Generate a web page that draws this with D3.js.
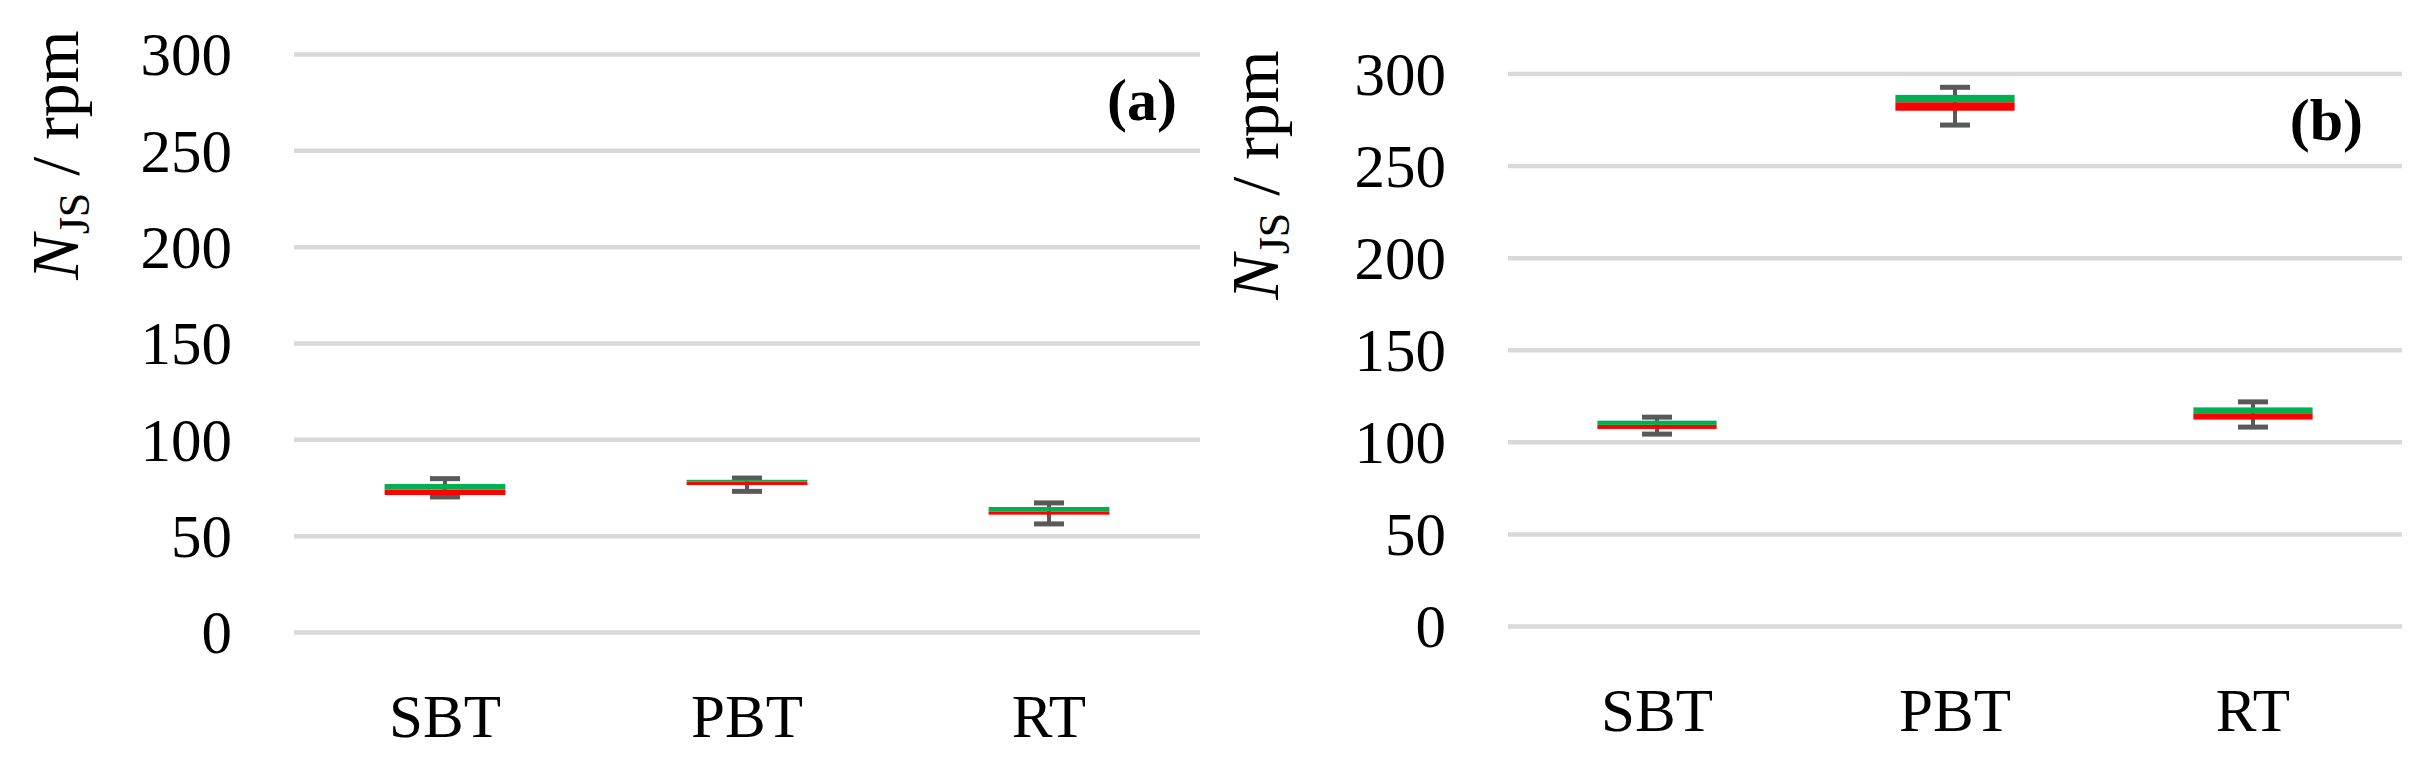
<!DOCTYPE html>
<html>
<head>
<meta charset="utf-8">
<script src="https://cdn.jsdelivr.net/npm/d3@7"></script>
<style>
  html, body { margin: 0; padding: 0; background: #fff; }
  svg { display: block; }
</style>
</head>
<body>
<div id="chart"></div>
<script>
// categories and axis ticks
const categories = ["SBT", "PBT", "RT"];
const yTicks = [0, 50, 100, 150, 200, 250, 300];

// panel (a): box stats per category
const aMin    = [70.1, 73.0, 56.1];
const aQ1     = [71.1, 76.3, 60.9];
const aMedian = [73.9, 78.0, 62.6];
const aQ3     = [76.8, 79.0, 64.9];
const aMax    = [79.6, 79.9, 67.0];

// panel (b)
const bMin    = [104.2, 272.0, 108.0];
const bQ1     = [107.0, 279.8, 112.1];
const bMedian = [109.2, 284.4, 115.5];
const bQ3     = [111.5, 288.4, 118.7];
const bMax    = [113.4, 292.5, 121.7];

const W = 2424, H = 773;
const svg = d3.select("#chart").append("svg")
    .attr("width", W)
    .attr("height", H);

const font = "'Liberation Serif', 'Times New Roman', serif";

// layout of the two panels
let panels = [
    {tag: "(a)", left: 294, right: 1200, top: 54, bottom: 632,
     labelX: 78, labelY: 155, tagX: 1177, tagY: 120, catY: 737,
     stats: {min: aMin, q1: aQ1, med: aMedian, q3: aQ3, max: aMax}},
    {tag: "(b)", left: 1508, right: 2402, top: 73.5, bottom: 626,
     labelX: 1278, labelY: 175, tagX: 2363, tagY: 140, catY: 731,
     stats: {min: bMin, q1: bQ1, med: bMedian, q3: bQ3, max: bMax}}
];

function drawPanel(p) {
    let g = svg.append("g");

    let x = d3.scaleBand()
        .domain(categories)
        .range([p.left, p.right]);
    let y = d3.scaleLinear()
        .domain([0, 300])
        .range([p.bottom, p.top]);

    // gridlines + tick labels
    let yAxis = g.append("g")
        .attr("transform", "translate(" + p.left + ",0)")
        .call(d3.axisLeft(y)
            .tickValues(yTicks)
            .tickSize(-(p.right - p.left))
            .tickPadding(62)
            .tickFormat(d3.format("d")));
    yAxis.select(".domain").remove();
    yAxis.selectAll(".tick line")
        .attr("stroke", "#d9d9d9")
        .attr("stroke-width", 4.5);
    yAxis.selectAll(".tick text")
        .attr("font-family", font)
        .attr("font-size", 61)
        .attr("fill", "#000")
        .attr("dy", "0.34em");

    // category labels
    g.selectAll(".cat")
        .data(categories)
        .enter().append("text")
        .attr("class", "cat")
        .attr("x", d => x(d) + x.bandwidth() / 2)
        .attr("y", p.catY)
        .attr("text-anchor", "middle")
        .attr("font-family", font)
        .attr("font-size", 61)
        .text(d => d);

    let boxW = x.bandwidth() * 0.4;
    let capW = 30;
    let s = p.stats;

    categories.forEach((c, i) => {
        let cx = x(c) + x.bandwidth() / 2;
        // whisker
        g.append("line")
            .attr("x1", cx).attr("x2", cx)
            .attr("y1", y(s.min[i])).attr("y2", y(s.max[i]))
            .attr("stroke", "#595959")
            .attr("stroke-width", 4);
        [s.min[i], s.max[i]].forEach(v => {
            g.append("line")
                .attr("x1", cx - capW / 2).attr("x2", cx + capW / 2)
                .attr("y1", y(v)).attr("y2", y(v))
                .attr("stroke", "#595959")
                .attr("stroke-width", 5);
        });
        // lower part of box (red) and upper part (green)
        g.append("rect")
            .attr("x", cx - boxW / 2)
            .attr("width", boxW)
            .attr("y", y(s.med[i]))
            .attr("height", y(s.q1[i]) - y(s.med[i]))
            .attr("fill", "#ff0000");
        g.append("rect")
            .attr("x", cx - boxW / 2)
            .attr("width", boxW)
            .attr("y", y(s.q3[i]))
            .attr("height", y(s.med[i]) - y(s.q3[i]))
            .attr("fill", "#00b050");
    });

    // y axis title
    let t = g.append("text")
        .attr("transform", "translate(" + p.labelX + "," + p.labelY + ") rotate(-90)")
        .attr("text-anchor", "middle")
        .attr("font-family", font)
        .attr("font-size", 68);
    t.append("tspan").attr("font-style", "italic").text("N");
    t.append("tspan").attr("font-size", 44).attr("dy", 11).text("JS");
    t.append("tspan").attr("dy", -11).text(" / rpm");

    // panel tag
    g.append("text")
        .attr("x", p.tagX)
        .attr("y", p.tagY)
        .attr("text-anchor", "end")
        .attr("font-family", font)
        .attr("font-weight", "bold")
        .attr("font-size", 60)
        .text(p.tag);
}

panels.forEach(drawPanel);
</script>
</body>
</html>
